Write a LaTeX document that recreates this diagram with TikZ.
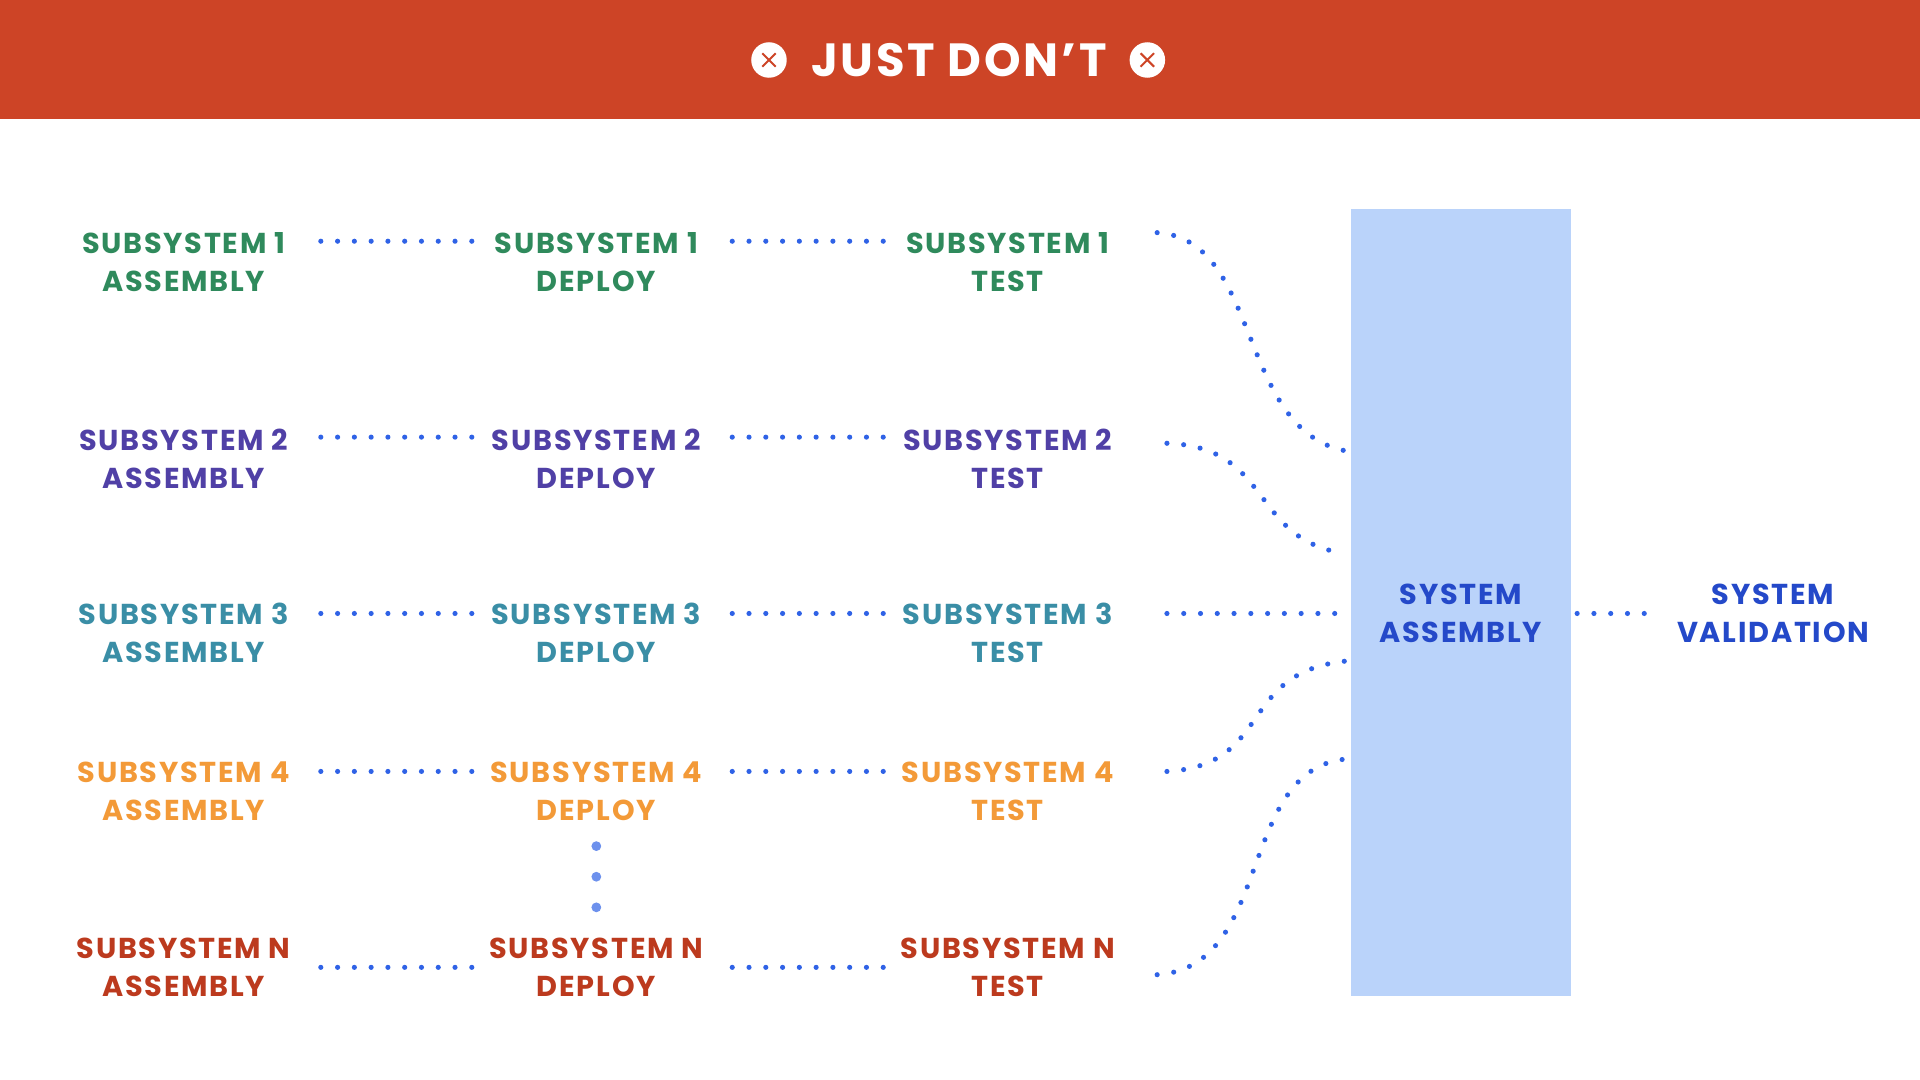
\documentclass[tikz,border=0pt]{standalone}
\usepackage{fontspec}
\setmainfont{Poppins}
\newfontfamily\spaced[LetterSpace=6]{Poppins}
\usetikzlibrary{positioning}
\definecolor{bandred}{HTML}{CD4426}
\definecolor{sgreen}{HTML}{2F8A5C}
\definecolor{spurple}{HTML}{5040A6}
\definecolor{steal}{HTML}{3A8EA6}
\definecolor{sorange}{HTML}{F39A38}
\definecolor{sred}{HTML}{BC3A1E}
\definecolor{sblue}{HTML}{2449C9}
\definecolor{dotblue}{HTML}{2F62E6}
\definecolor{boxblue}{HTML}{BAD3FA}
\tikzset{
  phase/.style={align=center, font=\spaced\bfseries\fontsize{23.5}{31}\selectfont, inner sep=0pt},
  link/.style={dotblue, line width=4.2pt, line cap=round, dash pattern=on 0pt off 13.7pt},
}
\begin{document}
\begin{tikzpicture}[x=1pt, y=-1pt]
\useasboundingbox (0,0) rectangle (1568,882);
\fill[bandred] (0,0) rectangle (1568,97);
\node[text=white, font=\spaced\bfseries\fontsize{38}{42}\selectfont] (title) at (783,49) {JUST DON’T};
\foreach \x/\n in {628/ia, 937/ib} {
  \fill[white] (\x,49) circle (14.5);
  \draw[bandred, line width=1.6pt] (\x-5.5,43.5) -- (\x+5.5,54.5) (\x-5.5,54.5) -- (\x+5.5,43.5);
}
\fill[boxblue] (1103,171) rectangle (1283,813);
\node[phase, text=sblue] (sa) at (1193,501) {SYSTEM\\ASSEMBLY};
\node[phase, text=sblue] (sv) at (1448,501) {SYSTEM\\VALIDATION};
% subsystem rows
\foreach \r/\lab/\col/\y in {1/1/sgreen/214, 2/2/spurple/375, 3/3/steal/517, 4/4/sorange/646, 5/N/sred/790} {
  \node[phase, text=\col] (a\r) at (150,\y) {SUBSYSTEM \lab\\ASSEMBLY};
  \node[phase, text=\col] (d\r) at (487,\y) {SUBSYSTEM \lab\\DEPLOY};
  \node[phase, text=\col] (t\r) at (823,\y) {SUBSYSTEM \lab\\TEST};
}
\foreach \r/\y in {1/197, 2/357, 3/501, 4/630} {
  \draw[link] (262,\y) -- (386,\y);
  \draw[link] (598,\y) -- (722,\y);
}
\draw[link] (262,790) -- (386,790);
\draw[link] (598,790) -- (722,790);
% to system assembly
\coordinate (e1) at (1098,368);
\coordinate (e2) at (1098,452);
\coordinate (e3) at (1090,501);
\coordinate (e4) at (1098,540);
\coordinate (e5) at (1098,620);
\draw[link] (945,190) .. controls (1030,195) and (1010,350) .. (e1);
\draw[link] (953,362) .. controls (1040,365) and (1020,440) .. (e2);
\draw[link] (953,501) -- (e3);
\draw[link] (953,630) .. controls (1040,625) and (1010,550) .. (e4);
\draw[link] (945,796) .. controls (1040,790) and (1010,630) .. (e5);
\draw[link] (1288,501) -- (1350,501);
\foreach \y in {691,716,741} \fill[dotblue!70] (487,\y) circle (4);
\end{tikzpicture}
\end{document}
